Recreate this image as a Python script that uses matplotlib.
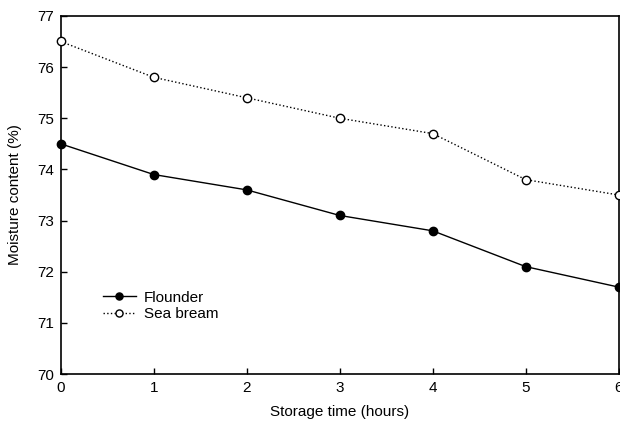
import matplotlib
matplotlib.use("Agg")
import matplotlib.pyplot as plt

hours = [0, 1, 2, 3, 4, 5, 6]
flounder = [74.5, 73.9, 73.6, 73.1, 72.8, 72.1, 71.7]
sea_bream = [76.5, 75.8, 75.4, 75.0, 74.7, 73.8, 73.5]
yticks = [70, 71, 72, 73, 74, 75, 76, 77]

plt.rcParams['font.family'] = ['Liberation Sans', 'DejaVu Sans']

fig = plt.figure(figsize=(6.2, 4.3), dpi=100)
ax = fig.add_axes([0.098, 0.130, 0.900, 0.833])

ax.plot(hours, flounder, '-', color='black', lw=1.0, marker='o', ms=6,
        mfc='black', mec='black', label='Flounder', clip_on=False, zorder=3)
ax.plot(hours, sea_bream, ':', color='black', lw=1.0, marker='o', ms=6,
        mfc='white', mec='black', mew=1.0, label='Sea bream', clip_on=False, zorder=3)

ax.set_xlim(0, 6)
ax.set_ylim(70, 77)
ax.set_xticks(hours)
ax.set_yticks(yticks)
ax.tick_params(direction='in', length=4, width=1, labelsize=11, pad=5)
for s in ax.spines.values():
    s.set_linewidth(1.2)

ax.set_xlabel('Storage time (hours)', fontsize=11, labelpad=7)
ax.set_ylabel('Moisture content (%)', fontsize=11, labelpad=11)

leg = ax.legend(loc='upper left', bbox_to_anchor=(0.064, 0.25), frameon=False,
                fontsize=11, handlelength=2.2, handletextpad=0.5,
                labelspacing=0.15, borderaxespad=0, markerscale=0.85)

fig.savefig('out.png', dpi=100)
